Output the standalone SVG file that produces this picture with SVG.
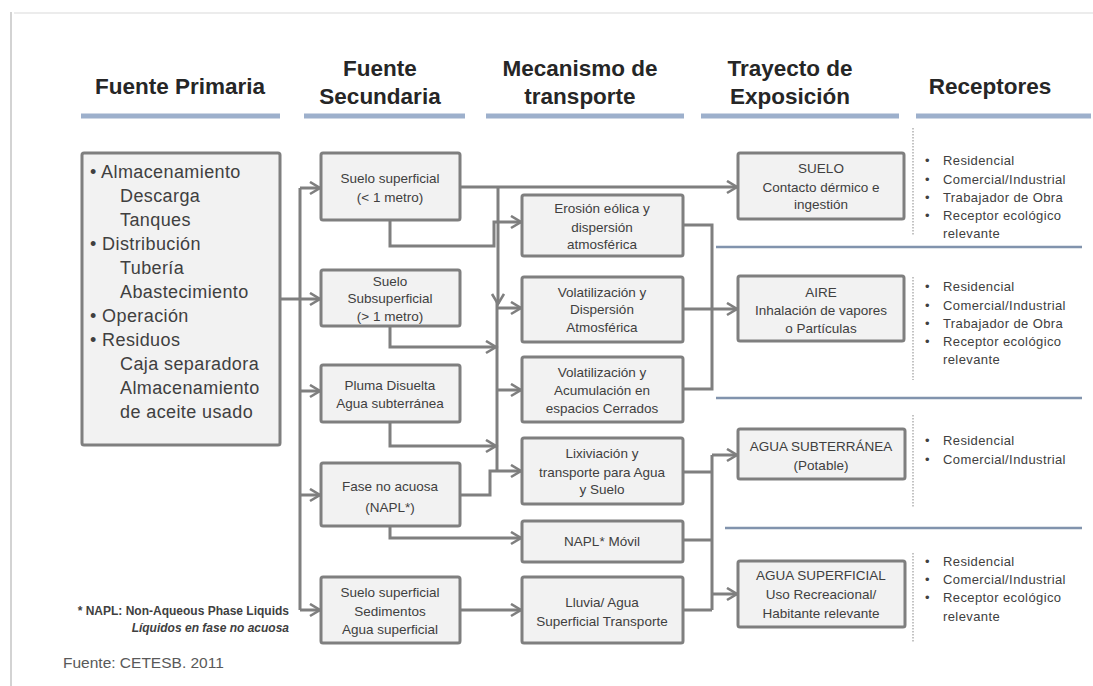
<svg xmlns="http://www.w3.org/2000/svg" width="1093" height="686" viewBox="0 0 1093 686">
<defs>
<marker id="arr" markerUnits="userSpaceOnUse" markerWidth="14" markerHeight="16" refX="11" refY="7" orient="auto">
<path d="M1,1 L11,7 L1,13" fill="none" stroke="#7f7f7f" stroke-width="2.6"/>
</marker>
<filter id="sh" x="-50%" y="-5%" width="200%" height="110%"><feGaussianBlur stdDeviation="1.2"/></filter>
</defs>
<style>
.box{fill:#f2f2f2;stroke:#7f7f7f;stroke-width:3}
.t{font-family:"Liberation Sans",Arial,sans-serif;font-size:13.5px;fill:#404040;text-anchor:middle}
.p{font-family:"Liberation Sans",Arial,sans-serif;font-size:18px;letter-spacing:0.4px;fill:#404040}
.r{font-family:"Liberation Sans",Arial,sans-serif;font-size:13px;letter-spacing:0.4px;fill:#404040}
.h{font-family:"Liberation Sans",Arial,sans-serif;font-size:22.5px;font-weight:bold;fill:#262626;text-anchor:middle}
.c{fill:none;stroke:#7f7f7f;stroke-width:3}
.ca{fill:none;stroke:#7f7f7f;stroke-width:3;marker-end:url(#arr)}
.ul{stroke:#9db0cc;stroke-width:5}
.sep{stroke:#8193ad;stroke-width:2.5}
.dot{stroke:#b0b0b0;stroke-width:1.5;stroke-dasharray:1.5 1.5}
</style>
<rect width="1093" height="686" fill="#ffffff"/>
<!-- frame -->
<line x1="14" y1="13" x2="1093" y2="13" stroke="#ececec" stroke-width="2"/>
<line x1="11" y1="12" x2="11" y2="686" stroke="#9a9a9a" stroke-width="3" filter="url(#sh)"/>
<line x1="11" y1="12" x2="11" y2="686" stroke="#c4c4c4" stroke-width="1.5"/>

<!-- headers -->
<g id="headers">
<text class="h" x="180" y="94">Fuente Primaria</text>
<text class="h" x="380" y="76">Fuente</text>
<text class="h" x="380" y="104">Secundaria</text>
<text class="h" x="580" y="76">Mecanismo de</text>
<text class="h" x="580" y="104">transporte</text>
<text class="h" x="790" y="76">Trayecto de</text>
<text class="h" x="790" y="104">Exposición</text>
<text class="h" x="990" y="94">Receptores</text>
<line class="ul" x1="81" y1="116" x2="280" y2="116"/>
<line class="ul" x1="304" y1="116" x2="465" y2="116"/>
<line class="ul" x1="486" y1="116" x2="684" y2="116"/>
<line class="ul" x1="701" y1="116" x2="899" y2="116"/>
<line class="ul" x1="916" y1="116" x2="1091" y2="116"/>
</g>

<!-- separators -->
<g id="separators">
<line class="sep" x1="716" y1="247" x2="1082" y2="247"/>
<line class="sep" x1="716" y1="398" x2="1082" y2="398"/>
<line class="sep" x1="725" y1="528" x2="1082" y2="528"/>
<line class="dot" x1="913" y1="128" x2="913" y2="235"/>
<line class="dot" x1="913" y1="277" x2="913" y2="380"/>
<line class="dot" x1="913" y1="415" x2="913" y2="507"/>
<line class="dot" x1="913" y1="553" x2="913" y2="642"/>
</g>

<!-- connectors -->
<g id="connectors">
<path class="c" d="M280,299 H300"/>
<path class="c" d="M300,188 V610"/>
<path class="ca" d="M300,188 H320"/>
<path class="ca" d="M300,299 H320"/>
<path class="ca" d="M300,391 H320"/>
<path class="ca" d="M300,495 H320"/>
<path class="ca" d="M300,610 H320"/>
<path class="ca" d="M460,187 H737"/>
<path class="ca" d="M498,187 V304"/>
<path class="ca" d="M390,220 V246 H494 V222 H521"/>
<path class="c" d="M497,300 V471"/>
<path class="ca" d="M497,308 H521"/>
<path class="ca" d="M497,390 H521"/>
<path class="ca" d="M390,326 V347 H496"/>
<path class="ca" d="M390,422 V446 H496"/>
<path class="ca" d="M460,495 H490 V471 H521"/>
<path class="ca" d="M390,526 V538 H521"/>
<path class="ca" d="M460,610 H521"/>
<path class="c" d="M683,225 H712 V389 H683"/>
<path class="ca" d="M683,309 H737"/>
<path class="c" d="M683,472 H712 M683,540 H712 M683,610 H712 M712,455 V610"/>
<path class="ca" d="M712,455 H737"/>
<path class="ca" d="M712,594 H737"/>
</g>

<!-- primary source -->
<g id="primaria">
<rect class="box" x="82" y="153" width="198" height="292" rx="2"/>
<text class="p" x="90" y="178">• Almacenamiento</text>
<text class="p" x="120" y="202">Descarga</text>
<text class="p" x="120" y="226">Tanques</text>
<text class="p" x="90" y="250">•  Distribución</text>
<text class="p" x="120" y="274">Tubería</text>
<text class="p" x="120" y="298">Abastecimiento</text>
<text class="p" x="90" y="322">• Operación</text>
<text class="p" x="90" y="346">• Residuos</text>
<text class="p" x="120" y="370">Caja separadora</text>
<text class="p" x="120" y="394">Almacenamiento</text>
<text class="p" x="120" y="418">de aceite usado</text>
</g>

<!-- secondary sources -->
<g id="suelo-superficial">
<rect class="box" x="321" y="153" width="139" height="67" rx="2"/>
<text class="t" x="390" y="183">Suelo superficial</text>
<text class="t" x="390" y="202">(&lt; 1 metro)</text>
</g>
<g id="suelo-subsuperficial">
<rect class="box" x="321" y="270" width="139" height="56" rx="2"/>
<text class="t" x="390" y="286">Suelo</text>
<text class="t" x="390" y="303">Subsuperficial</text>
<text class="t" x="390" y="321">(&gt; 1 metro)</text>
</g>
<g id="pluma">
<rect class="box" x="321" y="365" width="139" height="57" rx="2"/>
<text class="t" x="390" y="390">Pluma Disuelta</text>
<text class="t" x="390" y="408">Agua subterránea</text>
</g>
<g id="fase-no-acuosa">
<rect class="box" x="321" y="463" width="139" height="63" rx="2"/>
<text class="t" x="390" y="491">Fase no acuosa</text>
<text class="t" x="390" y="512">(NAPL*)</text>
</g>
<g id="sedimentos">
<rect class="box" x="321" y="577" width="139" height="66" rx="2"/>
<text class="t" x="390" y="597">Suelo superficial</text>
<text class="t" x="390" y="616">Sedimentos</text>
<text class="t" x="390" y="634">Agua superficial</text>
</g>

<!-- transport mechanisms -->
<g id="erosion">
<rect class="box" x="522" y="195" width="161" height="61" rx="2"/>
<text class="t" x="602" y="213">Erosión eólica y</text>
<text class="t" x="602" y="232">dispersión</text>
<text class="t" x="602" y="249">atmosférica</text>
</g>
<g id="volatilizacion-dispersion">
<rect class="box" x="522" y="277" width="161" height="65" rx="2"/>
<text class="t" x="602" y="297">Volatilización y</text>
<text class="t" x="602" y="314">Dispersión</text>
<text class="t" x="602" y="332">Atmosférica</text>
</g>
<g id="volatilizacion-acumulacion">
<rect class="box" x="522" y="357" width="161" height="65" rx="2"/>
<text class="t" x="602" y="377">Volatilización y</text>
<text class="t" x="602" y="395">Acumulación en</text>
<text class="t" x="602" y="413">espacios Cerrados</text>
</g>
<g id="lixiviacion">
<rect class="box" x="522" y="438" width="161" height="66" rx="2"/>
<text class="t" x="602" y="458">Lixiviación y</text>
<text class="t" x="602" y="477">transporte para Agua</text>
<text class="t" x="602" y="494">y Suelo</text>
</g>
<g id="napl-movil">
<rect class="box" x="522" y="521" width="161" height="41" rx="2"/>
<text class="t" x="602" y="546">NAPL*  Móvil</text>
</g>
<g id="lluvia">
<rect class="box" x="522" y="577" width="161" height="66" rx="2"/>
<text class="t" x="602" y="607">Lluvia/ Agua</text>
<text class="t" x="602" y="626">Superficial Transporte</text>
</g>

<!-- exposure pathways -->
<g id="suelo-exp">
<rect class="box" x="738" y="153" width="166" height="66" rx="2"/>
<text class="t" x="821" y="173">SUELO</text>
<text class="t" x="821" y="192">Contacto dérmico e</text>
<text class="t" x="821" y="209">ingestión</text>
</g>
<g id="aire">
<rect class="box" x="738" y="276" width="166" height="65" rx="2"/>
<text class="t" x="821" y="297">AIRE</text>
<text class="t" x="821" y="315">Inhalación de vapores</text>
<text class="t" x="821" y="333">o Partículas</text>
</g>
<g id="agua-subterranea">
<rect class="box" x="738" y="429" width="167" height="50" rx="2"/>
<text class="t" x="821" y="451">AGUA SUBTERRÁNEA</text>
<text class="t" x="821" y="470">(Potable)</text>
</g>
<g id="agua-superficial">
<rect class="box" x="738" y="561" width="167" height="66" rx="2"/>
<text class="t" x="821" y="580">AGUA SUPERFICIAL</text>
<text class="t" x="821" y="599">Uso Recreacional/</text>
<text class="t" x="821" y="618">Habitante relevante</text>
</g>

<!-- receptors -->
<g id="receptores-suelo" class="r">
<text x="925" y="165">•</text><text x="943" y="165">Residencial</text>
<text x="925" y="184">•</text><text x="943" y="184">Comercial/Industrial</text>
<text x="925" y="202">•</text><text x="943" y="202">Trabajador de Obra</text>
<text x="925" y="220">•</text><text x="943" y="220">Receptor ecológico</text>
<text x="943" y="238">relevante</text>
</g>
<g id="receptores-aire" class="r">
<text x="925" y="291">•</text><text x="943" y="291">Residencial</text>
<text x="925" y="310">•</text><text x="943" y="310">Comercial/Industrial</text>
<text x="925" y="328">•</text><text x="943" y="328">Trabajador de Obra</text>
<text x="925" y="346">•</text><text x="943" y="346">Receptor ecológico</text>
<text x="943" y="364">relevante</text>
</g>
<g id="receptores-agua-sub" class="r">
<text x="925" y="445">•</text><text x="943" y="445">Residencial</text>
<text x="925" y="464">•</text><text x="943" y="464">Comercial/Industrial</text>
</g>
<g id="receptores-agua-sup" class="r">
<text x="925" y="566">•</text><text x="943" y="566">Residencial</text>
<text x="925" y="584">•</text><text x="943" y="584">Comercial/Industrial</text>
<text x="925" y="602">•</text><text x="943" y="602">Receptor ecológico</text>
<text x="943" y="621">relevante</text>
</g>

<!-- notes -->
<g id="notes">
<text x="289" y="615" text-anchor="end" font-family="Liberation Sans, Arial, sans-serif" font-size="12" font-weight="bold" fill="#404040">* NAPL: Non-Aqueous Phase Liquids</text>
<text x="289" y="632" text-anchor="end" font-family="Liberation Sans, Arial, sans-serif" font-size="12" font-weight="bold" font-style="italic" fill="#404040">Líquidos en fase no acuosa</text>
<text x="63" y="668" font-family="Liberation Sans, Arial, sans-serif" font-size="15.5" fill="#595959">Fuente: CETESB. 2011</text>
</g>
</svg>
